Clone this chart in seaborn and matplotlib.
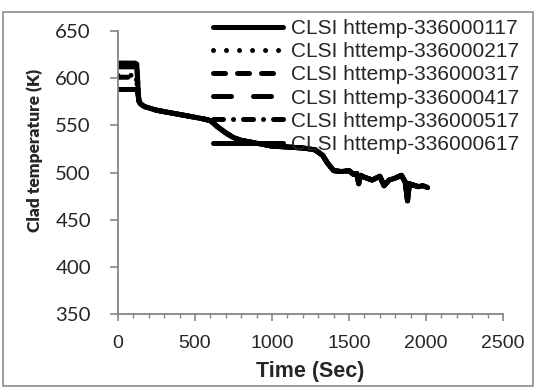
import matplotlib
matplotlib.use("Agg")
import matplotlib.pyplot as plt
import seaborn as sns
import pandas as pd
from matplotlib.patches import Rectangle
from matplotlib.ticker import MultipleLocator

# ---- data ----
labels = ["CLSI httemp-336000117", "CLSI httemp-336000217", "CLSI httemp-336000317",
          "CLSI httemp-336000417", "CLSI httemp-336000517", "CLSI httemp-336000617"]

# early (pre-drop) part of each series: time, temperature
head_t = [
    [0, 110, 122, 135],
    [0, 105, 118, 135],
    [0, 110, 122, 135],
    [0, 110, 122, 135],
    [0, 105, 118, 135],
    [0, 112, 125, 137],
]
head_v = [
    [616, 616, 615, 576],
    [603, 603, 602, 576],
    [614, 614, 613, 576],
    [612, 612, 611, 576],
    [601, 601, 600, 576],
    [588, 588, 587, 576],
]

# common trajectory after the drop
tail_t = [145, 170, 250, 350, 450, 550, 600, 650, 700, 750, 800, 900, 1000, 1100,
          1200, 1280, 1330, 1360, 1400, 1450, 1500, 1530, 1550, 1563, 1575, 1600,
          1650, 1700, 1728, 1760, 1800, 1840, 1865, 1880, 1892, 1910, 1950, 1980, 2010]
tail_v = [573, 570, 566, 563, 560, 557, 555, 548, 542, 537, 534, 531, 528, 527,
          526, 524, 518, 510, 502, 501, 502, 498, 499, 488, 497, 495,
          492, 496, 486, 492, 494, 497, 490, 470, 488, 487, 485, 486, 484]

x_ticks = [0, 500, 1000, 1500, 2000, 2500]
y_ticks = [350, 400, 450, 500, 550, 600, 650]

# ---- styling ----
PX = 0.72  # points per pixel at dpi 100
styles = [
    dict(ls="solid"),
    dict(ls=(0, (0.01, 13 * PX))),
    dict(ls=(0, (12 * PX, 12 * PX))),
    dict(ls=(0, (18 * PX, 22 * PX))),
    dict(ls=(0, (10 * PX, 10 * PX, 0.01, 10 * PX))),
    dict(ls="solid"),
]

sns.set_style("white")
plt.rcParams["lines.scale_dashes"] = False
plt.rcParams["font.family"] = ["Liberation Sans", "DejaVu Sans"]

fig = plt.figure(figsize=(5.36, 3.88), dpi=100)
ax = fig.add_axes([118 / 536, (388 - 314) / 388, (503 - 118) / 536, (314 - 31) / 388])

for i, lab in enumerate(labels):
    df = pd.DataFrame({"t": head_t[i] + tail_t, "v": head_v[i] + tail_v})
    sns.lineplot(data=df, x="t", y="v", ax=ax, color="black", lw=3.6,
                 estimator=None, sort=False, label=lab)
    line = ax.lines[-1]
    line.set_linestyle(styles[i]["ls"])
    line.set_dash_capstyle("round")
    line.set_solid_capstyle("round")
    line.set_solid_joinstyle("round")

ax.set_xlim(0, 2500)
ax.set_ylim(350, 650)
ax.set_xticks(x_ticks)
ax.set_yticks(y_ticks)
ax.xaxis.set_minor_locator(MultipleLocator(100))

gray = "#868686"
for s in ["top", "right"]:
    ax.spines[s].set_visible(False)
for s in ["left", "bottom"]:
    ax.spines[s].set_color(gray)
    ax.spines[s].set_linewidth(1.3)

ax.tick_params(axis="x", which="major", direction="out", length=5, width=1.2,
               color=gray, pad=10, labelsize=14, bottom=True)
ax.tick_params(axis="x", which="minor", direction="out", length=3, width=1.0,
               color=gray, bottom=True)
ax.tick_params(axis="y", which="major", direction="out", length=6, width=1.2,
               color=gray, pad=13.5, labelsize=14.7, left=True)
for t in ax.get_yticklabels():
    t.set_fontfamily(["Lato", "DejaVu Sans"])

ax.set_xlabel("Time (Sec)", fontsize=15.5, fontweight="bold")
ax.xaxis.set_label_coords(0.5, (314 - 372) / 283)
ax.xaxis.label.set_va("center")
ax.set_ylabel("Clad temperature (K)", fontsize=12.5, fontweight="heavy",
              family=["Lato", "DejaVu Sans"])
ax.yaxis.label.set_va("center")
ax.yaxis.set_label_coords((35 - 118) / 385, (314 - 150) / 283)

leg = ax.legend(loc="upper right", bbox_to_anchor=(519 / 536, (388 - 19) / 388),
                bbox_transform=fig.transFigure, frameon=False, fontsize=15,
                handlelength=3.35, handletextpad=0.4, labelspacing=0.2,
                borderpad=0, borderaxespad=0)
for h in leg.get_lines():
    h.set_linewidth(3.6)

fig.add_artist(Rectangle((3 / 536, 2 / 388), 530 / 536, (386 - 12) / 388,
                         transform=fig.transFigure, fill=False,
                         edgecolor="#8c8c8c", linewidth=1.2))

fig.savefig("out.png", dpi=100)
